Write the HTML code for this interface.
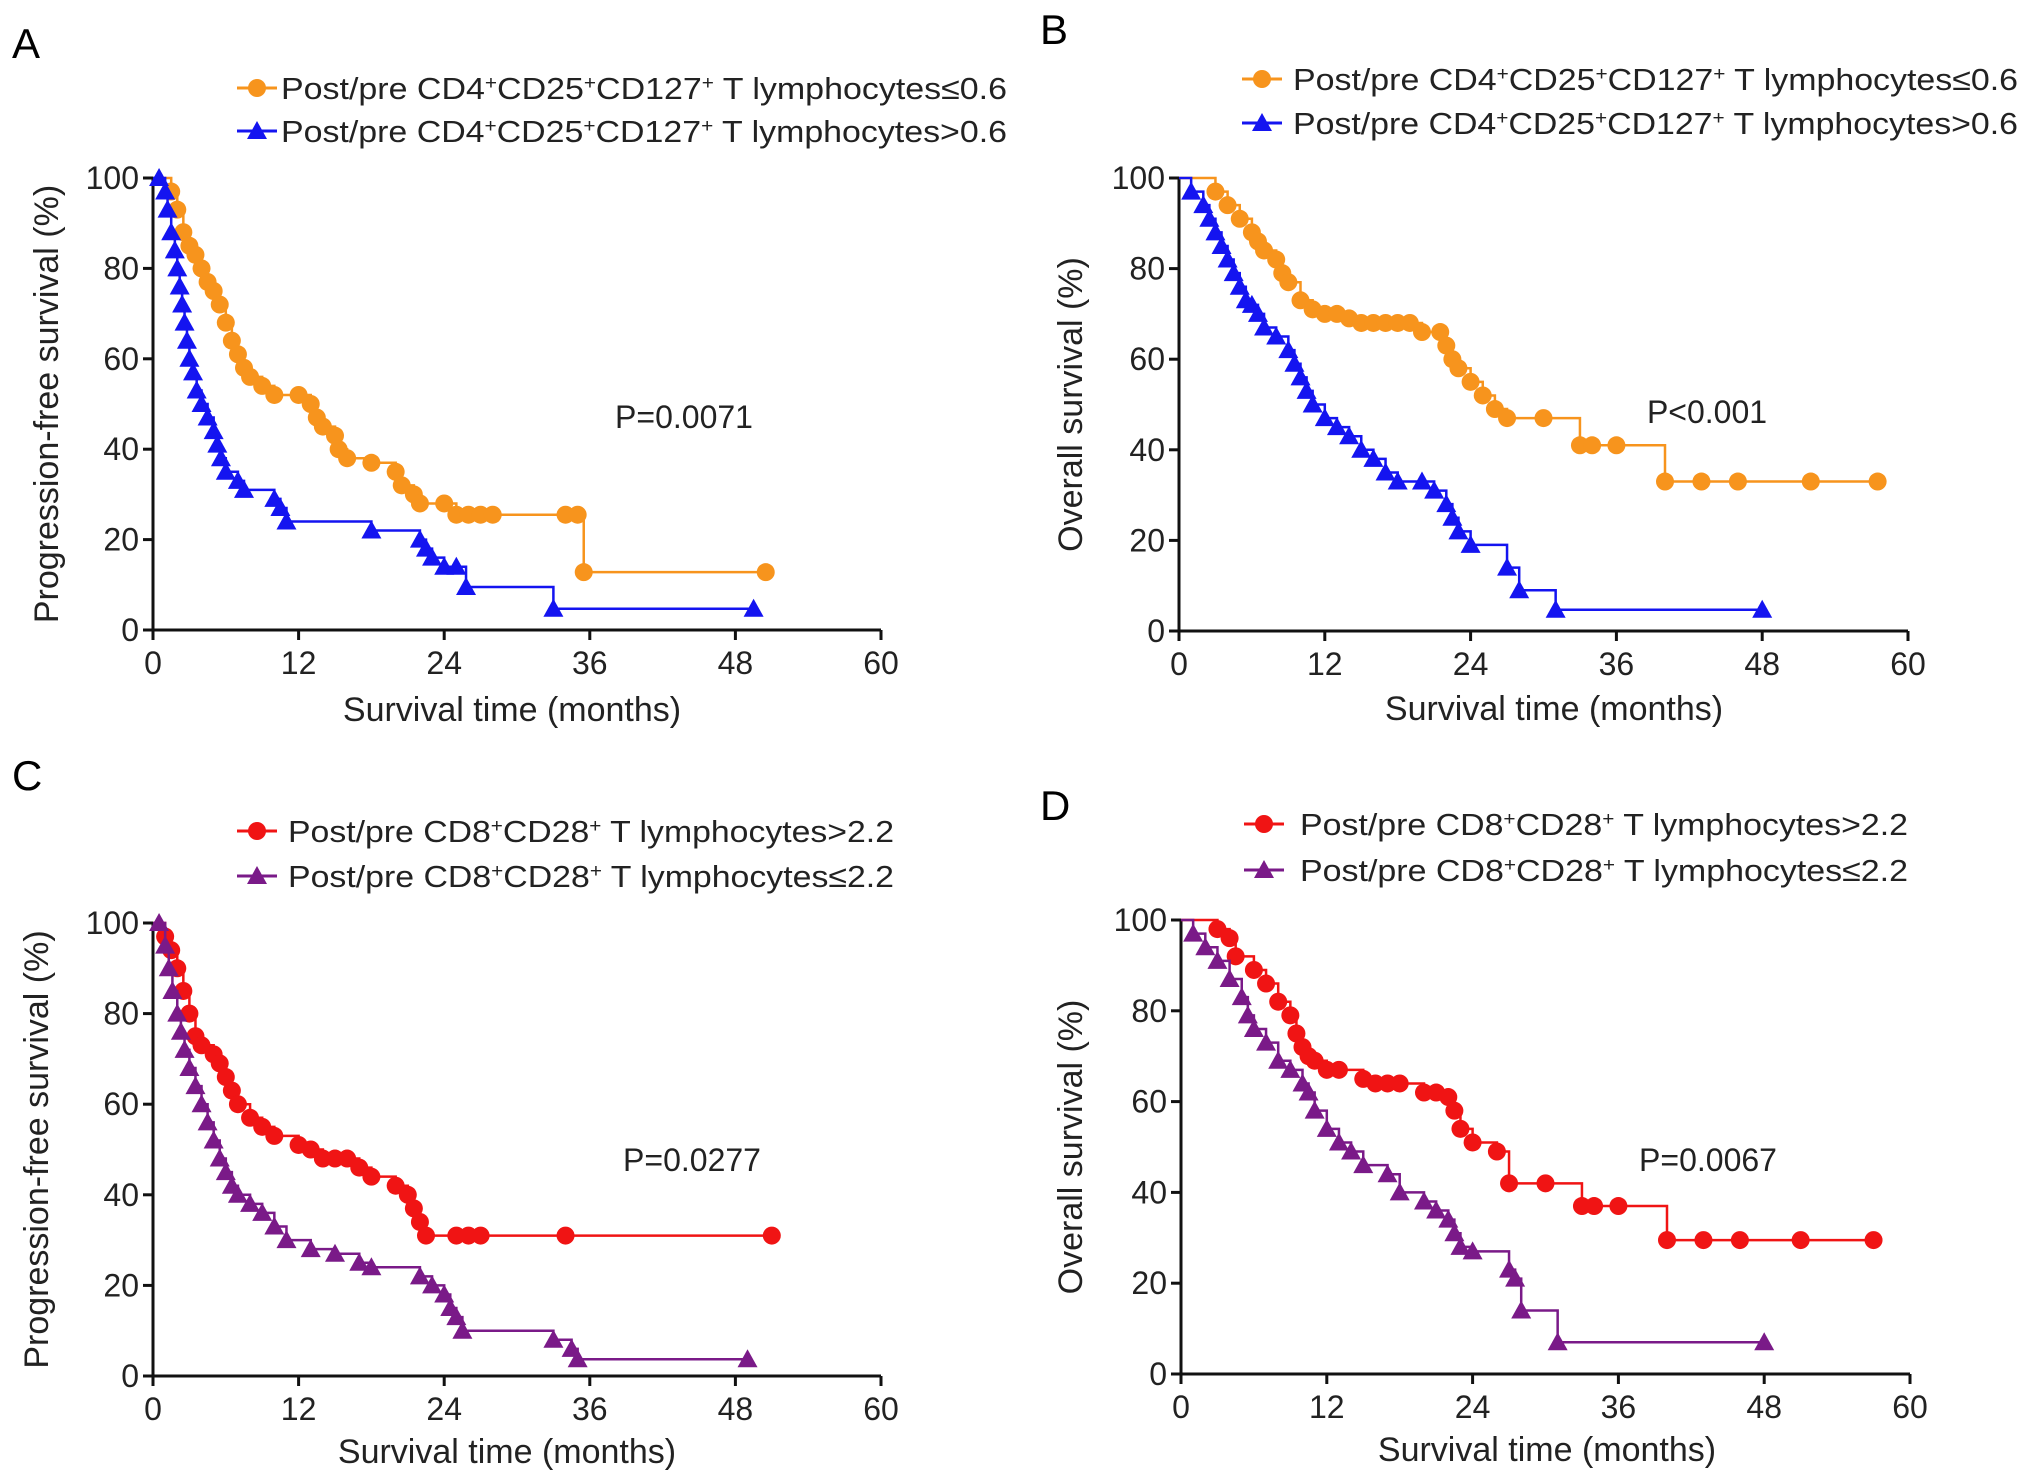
<!DOCTYPE html>
<html><head><meta charset="utf-8"><style>
html,body{margin:0;padding:0;background:#fff;}
svg{display:block;font-family:"Liberation Sans",Arial,sans-serif;}
</style></head><body>
<svg id="fig" width="2032" height="1484" viewBox="0 0 2032 1484" xmlns="http://www.w3.org/2000/svg"></svg>
<script>
// ---- Data ----
const xTicks = [0, 12, 24, 36, 48, 60];
const yTicks = [0, 20, 40, 60, 80, 100];

const aOrangeT = [1.5,2,2.5,3,3.5,4,4.5,5,5.5,6,6.5,7,7.5,8,9,10,12,13,13.5,14,15,15.3,16,18,20,20.5,21.5,22,24,25,26,27,28,34,35,35.5,50.5];
const aOrangeS = [97,93,88,85,83,80,77,75,72,68,64,61,58,56,54,52,52,50,47,45,43,40,38,37,35,32,30,28,28,25.5,25.5,25.5,25.5,25.5,25.5,12.8,12.8];
const aBlueT = [0.5,1,1.2,1.5,1.8,2,2.2,2.4,2.6,2.8,3,3.3,3.6,4,4.5,5,5.3,5.6,6,7,7.5,10,10.5,11,18,22,22.5,23,24,25,25.8,33,49.5];
const aBlueS = [100,97,93,88,84,80,76,72,68,64,60,57,53,50,47,44,41,38,35,33,31,29,27,24,22,20,18,16,14,14,9.5,4.7,4.7];

const bOrangeT = [3,4,5,6,6.5,7,8,8.5,9,10,11,12,13,14,15,16,17,18,19,20,21.5,22,22.5,23,24,25,26,27,30,33,34,36,40,43,46,52,57.5];
const bOrangeS = [97,94,91,88,86,84,82,79,77,73,71,70,70,69,68,68,68,68,68,66,66,63,60,58,55,52,49,47,47,41,41,41,33,33,33,33,33];
const bBlueT = [1,2,2.5,3,3.5,4,4.5,5,5.5,6,6.5,7,8,9,9.5,10,10.5,11,12,13,14,15,16,17,18,20,21,22,22.5,23,24,27,28,31,48];
const bBlueS = [97,94,91,88,85,82,79,76,73,72,70,67,65,62,59,56,53,50,47,45,43,40,38,35,33,33,31,28,25,22,19,14,9,4.7,4.7];

const cRedT = [1,1.5,2,2.5,3,3.5,4,5,5.5,6,6.5,7,8,9,10,12,13,14,15,16,17,18,20,21,21.5,22,22.5,25,26,27,34,51];
const cRedS = [97,94,90,85,80,75,73,71,69,66,63,60,57,55,53,51,50,48,48,48,46,44,42,40,37,34,31,31,31,31,31,31];
const cPurpleT = [0.5,1,1.3,1.6,2,2.3,2.6,3,3.5,4,4.5,5,5.5,6,6.5,7,8,9,10,11,13,15,17,18,22,23,24,24.5,25,25.5,33,34.5,35,49];
const cPurpleS = [100,95,90,85,80,76,72,68,64,60,56,52,48,45,42,40,38,36,33,30,28,27,25,24,22,20,18,15,13,10,8,6,3.7,3.7];

const dRedT = [3,4,4.5,6,7,8,9,9.5,10,10.5,11,12,13,15,16,17,18,20,21,22,22.5,23,24,26,27,30,33,34,36,40,43,46,51,57];
const dRedS = [98,96,92,89,86,82,79,75,72,70,69,67,67,65,64,64,64,62,62,61,58,54,51,49,42,42,37,37,37,29.5,29.5,29.5,29.5,29.5];
const dPurpleT = [1,2,3,4,5,5.5,6,7,8,9,10,10.5,11,12,13,14,15,17,18,20,21,22,22.5,23,24,27,27.5,28,31,48];
const dPurpleS = [97,94,91,87,83,79,76,73,69,67,64,62,58,54,51,49,46,44,40,38,36,34,31,28,27,23,21,14,7,7];

const NS = "http://www.w3.org/2000/svg";
const svg = document.getElementById('fig');
function mk(tag, attrs, parent){
  const e = document.createElementNS(NS, tag);
  for (const k in attrs) e.setAttribute(k, attrs[k]);
  (parent||svg).appendChild(e);
  return e;
}
const ORANGE="#f7941d", BLUE="#1414f0", RED="#f01414", PURPLE="#7a1a88";

function marker(g, type, x, y, color){
  if (type==='circle'){
    const c = mk('circle',{cx:x,cy:y,r:9,fill:color},g);
    
    
  } else {
    const s=10;
    const p = mk('polygon',{points:`${x},${y-s} ${x-s},${y+s*0.8} ${x+s},${y+s*0.8}`,fill:color},g);
    
    
  }
}

function panel(o){
  const g = mk('g',{});
  
  
  const X = t => o.x0 + (t/60)*(o.x1-o.x0);
  const Y = v => o.y0 - (v/100)*(o.y0-o.y1);
  const lb = mk('text',{x:o.lx,y:o.ly,'font-size':42},g); lb.textContent=o.label;
   
  const ax = mk('path',{d:`M${o.x0},${o.y1} V${o.y0} H${o.x1}`,stroke:'#111','stroke-width':3,fill:'none'},g);
   
  xTicks.forEach(t=>{
    mk('line',{x1:X(t),x2:X(t),y1:o.y0,y2:o.y0+10,stroke:'#111','stroke-width':3},g);
    const tx = mk('text',{x:X(t),y:o.y0+44,'font-size':32,'text-anchor':'middle',fill:'#222'},g);
    tx.textContent=t;
     
  });
  yTicks.forEach(v=>{
    mk('line',{x1:o.x0-10,x2:o.x0,y1:Y(v),y2:Y(v),stroke:'#111','stroke-width':3},g);
    const ty = mk('text',{x:o.x0-14,y:Y(v)+11,'font-size':32,'text-anchor':'end',fill:'#222'},g);
    ty.textContent=v;
     
  });
  const xt = mk('text',{x:o.xtx,y:o.xty,'font-size':34,'text-anchor':'middle',fill:'#222'},g);
  xt.textContent='Survival time (months)';
   
  const yt = mk('text',{x:0,y:0,'font-size':34,'text-anchor':'middle',fill:'#222',transform:`translate(${o.ytx},${(o.y0+o.y1)/2}) rotate(-90)`},g);
  yt.textContent=o.ytitle;
   
  const pv = mk('text',{x:o.px,y:o.py+11,'font-size':32,'text-anchor':'middle',fill:'#222'},g);
  pv.textContent=o.p;
   
  o.series.forEach((s,i)=>{
    const sg = mk('g',{},g);
    
    
    let d=`M${X(0)},${Y(100)}`;
    s.t.forEach((t,j)=>{ d+=` H${X(t)} V${Y(s.s[j])}`; });
    mk('path',{d:d,stroke:s.c,'stroke-width':2.5,fill:'none'},sg);
    s.t.forEach((t,j)=>marker(sg,s.m,X(t),Y(s.s[j]),s.c));
    const ly = o.legY[i];
    const lg = mk('g',{},g);
    
    
    mk('line',{x1:o.legX,x2:o.legX+40,y1:ly,y2:ly,stroke:s.c,'stroke-width':3},lg);
    marker(lg,s.m,o.legX+20,ly,s.c);
    const tt = mk('text',{x:o.legTX,y:ly+11,'font-size':31,fill:'#222',textLength:o.legW,lengthAdjust:'spacingAndGlyphs'},lg);
    tt.innerHTML = s.label;
  });
}
const sup = '<tspan baseline-shift="super" font-size="19">+</tspan>';
const l4 = (op,v)=>`Post/pre CD4${sup}CD25${sup}CD127${sup} T lymphocytes${op}${v}`;
const l8 = (op,v)=>`Post/pre CD8${sup}CD28${sup} T lymphocytes${op}${v}`;

panel({label:'A',lx:12,ly:58,x0:153,x1:881,y0:630,y1:178,xtx:512,xty:721,ytx:58,ytitle:'Progression-free survival (%)',
  p:'P=0.0071',px:684,py:417,legX:237,legTX:281,legW:726,legY:[88,131],
  series:[{t:aOrangeT,s:aOrangeS,c:ORANGE,m:'circle',label:l4('≤','0.6')},{t:aBlueT,s:aBlueS,c:BLUE,m:'tri',label:l4('&gt;','0.6')}]});
panel({label:'B',lx:1040,ly:44,x0:1179,x1:1908,y0:631,y1:178,xtx:1554,xty:720,ytx:1082,ytitle:'Overall survival (%)',
  p:'P<0.001',px:1707,py:412,legX:1242,legTX:1293,legW:725,legY:[79,123],
  series:[{t:bOrangeT,s:bOrangeS,c:ORANGE,m:'circle',label:l4('≤','0.6')},{t:bBlueT,s:bBlueS,c:BLUE,m:'tri',label:l4('&gt;','0.6')}]});
panel({label:'C',lx:12,ly:790,x0:153,x1:881,y0:1376,y1:923,xtx:507,xty:1463,ytx:48,ytitle:'Progression-free survival (%)',
  p:'P=0.0277',px:692,py:1160,legX:237,legTX:288,legW:606,legY:[831,876],
  series:[{t:cRedT,s:cRedS,c:RED,m:'circle',label:l8('&gt;','2.2')},{t:cPurpleT,s:cPurpleS,c:PURPLE,m:'tri',label:l8('≤','2.2')}]});
panel({label:'D',lx:1040,ly:820,x0:1181,x1:1910,y0:1374,y1:920,xtx:1547,xty:1461,ytx:1082,ytitle:'Overall survival (%)',
  p:'P=0.0067',px:1708,py:1160,legX:1244,legTX:1300,legW:608,legY:[824,870],
  series:[{t:dRedT,s:dRedS,c:RED,m:'circle',label:l8('&gt;','2.2')},{t:dPurpleT,s:dPurpleS,c:PURPLE,m:'tri',label:l8('≤','2.2')}]});
</script>
</body></html>
